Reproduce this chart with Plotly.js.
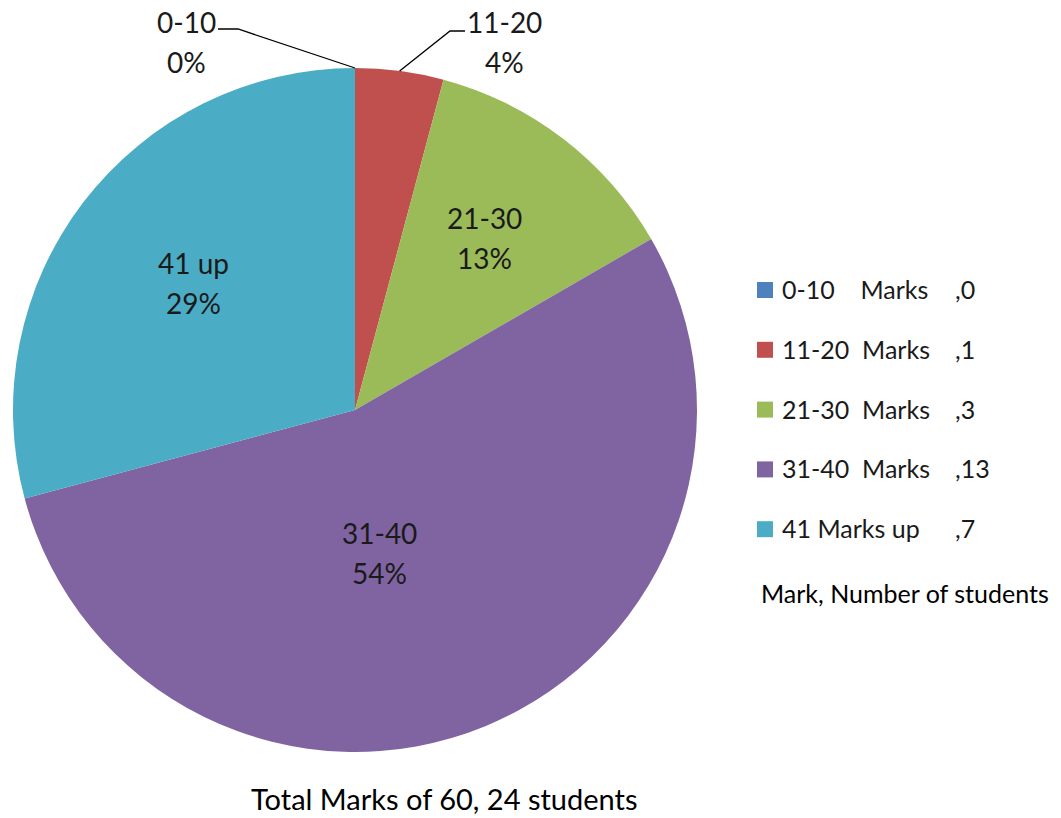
<!DOCTYPE html>
<html>
<head>
<meta charset="utf-8">
<script src="https://cdn.plot.ly/plotly-3.0.1.min.js"></script>
<style>body{margin:0;background:#fff;} #chart{width:1061px;height:818px;}</style>
</head>
<body>
<div id="chart"></div>
<script>
// ---- data ----
const categories = ["0-10", "11-20", "21-30", "31-40", "41 up"];
const students = [0, 1, 3, 13, 7];
const legendNames = ["0-10\u00A0\u00A0\u00A0\u00A0Marks", "11-20\u00A0\u00A0Marks", "21-30\u00A0\u00A0Marks", "31-40\u00A0\u00A0Marks", "41 Marks up"];
const legendValues = [",0", ",1", ",3", ",13", ",7"];
const chartTitle = "Total Marks of 60, 24 students";
const legendTitle = "Mark, Number of students";
const colors = ["#4F81BD", "#C0504D", "#9BBB59", "#8064A2", "#4BACC6"];

// ---- layout geometry (pixels) ----
const W = 1061, H = 818;
const cx = 355, cy = 410, R = 342;
const px = x => x / W;
const py = y => 1 - y / H;
const FONT = "Lato, 'Open Sans', sans-serif";
const TXT = "#1a1a1a";

const total = students.reduce((a, b) => a + b, 0);
// cumulative angles (clockwise from 12 o'clock)
let acc = 0;
const startAng = [], midAng = [];
students.forEach(v => { startAng.push(acc / total * 360); midAng.push((acc + v / 2) / total * 360); acc += v; });
const pct = students.map(v => Math.round(v / total * 100) + "%");
const pt = (ang, r) => { const a = ang * Math.PI / 180; return [cx + r * Math.sin(a), cy - r * Math.cos(a)]; };

// label placement style: inside slices (radius fraction, angle shift) or outside (anchor px)
const labelStyle = [
  {out: true, tx: 186, ty: 42, elbow: [238, 29], end: [218, 29], edgeAng: 'start'},
  {out: true, tx: 504, ty: 42, elbow: [450, 31], end: [465, 31], edgeAng: 'mid'},
  {f: 0.63, shift: -0.6},
  {f: 0.425, shift: 12.6},
  {f: 0.60, shift: 0.8}
];

const annotations = [];
const shapes = [];
categories.forEach((c, i) => {
  const s = labelStyle[i];
  let x, y;
  if (s.out) {
    x = s.tx; y = s.ty;
    const ang = s.edgeAng === 'start' ? startAng[i] : midAng[i];
    const e = pt(ang, R);
    shapes.push({type: 'path', xref: 'paper', yref: 'paper',
      path: `M ${px(e[0])} ${py(e[1])} L ${px(s.elbow[0])} ${py(s.elbow[1])} L ${px(s.end[0])} ${py(s.end[1])}`,
      line: {color: '#000', width: 1.3}});
  } else {
    [x, y] = pt(midAng[i] + s.shift, s.f * R);
  }
  annotations.push({x: px(x), y: py(y - 20), xref: 'paper', yref: 'paper', text: c, showarrow: false,
    xanchor: 'center', yanchor: 'middle', font: {family: FONT, size: 28, color: TXT}});
  annotations.push({x: px(x), y: py(y + 20), xref: 'paper', yref: 'paper', text: pct[i], showarrow: false,
    xanchor: 'center', yanchor: 'middle', font: {family: FONT, size: 28, color: TXT}});
});

// custom legend
const legY0 = 290, legDY = 59.8;
categories.forEach((c, i) => {
  const yy = legY0 + i * legDY;
  shapes.push({type: 'rect', xref: 'paper', yref: 'paper', x0: px(757), x1: px(773), y0: py(yy - 8), y1: py(yy + 8),
    fillcolor: colors[i], line: {width: 0}});
  annotations.push({x: px(780), y: py(yy - 1), xref: 'paper', yref: 'paper', text: legendNames[i], showarrow: false,
    xanchor: 'left', yanchor: 'middle', font: {family: FONT, size: 25, color: TXT}});
  annotations.push({x: px(953), y: py(yy - 1), xref: 'paper', yref: 'paper', text: legendValues[i], showarrow: false,
    xanchor: 'left', yanchor: 'middle', font: {family: FONT, size: 25, color: TXT}});
});
annotations.push({x: px(905), y: py(593), xref: 'paper', yref: 'paper', text: legendTitle, showarrow: false,
  xanchor: 'center', yanchor: 'middle', font: {family: FONT, size: 25, color: '#000'}});
annotations.push({x: px(444), y: py(798), xref: 'paper', yref: 'paper', text: chartTitle, showarrow: false,
  xanchor: 'center', yanchor: 'middle', font: {family: FONT, size: 29, color: '#000'}});

const trace = {
  type: 'pie', labels: categories, values: students, sort: false, direction: 'clockwise', rotation: 0,
  marker: {colors: colors, line: {width: 0}}, textinfo: 'none', hoverinfo: 'none', showlegend: false,
  domain: {x: [px(cx - R), px(cx + R)], y: [py(cy + R), py(cy - R)]}
};

const layout = {
  width: W, height: H, margin: {l: 0, r: 0, t: 0, b: 0},
  paper_bgcolor: '#fff', plot_bgcolor: '#fff', showlegend: false,
  annotations: annotations, shapes: shapes
};
Plotly.newPlot('chart', [trace], layout, {displayModeBar: false, staticPlot: true});
</script>
</body>
</html>
